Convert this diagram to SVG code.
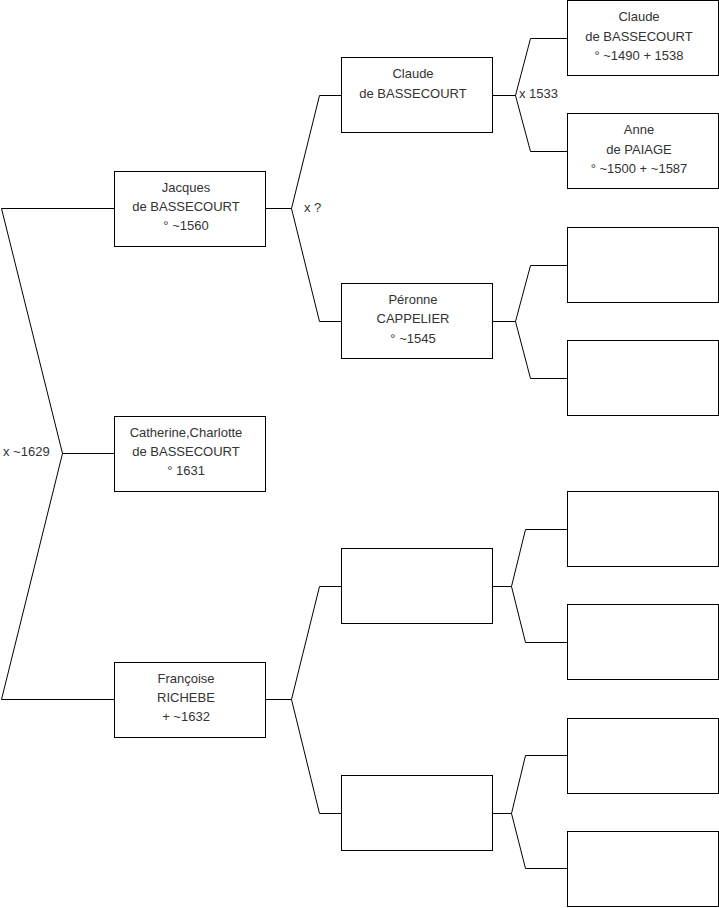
<svg xmlns="http://www.w3.org/2000/svg" width="719" height="908" viewBox="0 0 719 908">
<style>
.box{fill:#fff;stroke:#000;stroke-width:1}
.ln{fill:none;stroke:#000;stroke-width:1}
text{font-family:"Liberation Sans",Arial,sans-serif;font-size:13px;fill:#333}
.c{text-anchor:middle}
</style>
<rect width="719" height="908" fill="#fff"/>
<g id="connectors">
<polyline class="ln" points="114,208.5 1.5,208.5 62.5,453.5 1.5,699.5 114,699.5"/>
<line class="ln" x1="62.5" y1="453.5" x2="114" y2="453.5"/>
<polyline class="ln" points="341,95.5 319.5,95.5 291.5,208.5 319.5,321.5 341,321.5"/>
<line class="ln" x1="265" y1="208.5" x2="291.5" y2="208.5"/>
<polyline class="ln" points="341,586.5 319.5,586.5 291.5,699.5 319.5,813.5 341,813.5"/>
<line class="ln" x1="265" y1="699.5" x2="291.5" y2="699.5"/>
<polyline class="ln" points="567,38.5 530.5,38.5 515.5,95.5 530.5,151.5 567,151.5"/>
<line class="ln" x1="492" y1="95.5" x2="515.5" y2="95.5"/>
<polyline class="ln" points="567,265.5 530.5,265.5 515.5,321.5 530.5,378.5 567,378.5"/>
<line class="ln" x1="492" y1="321.5" x2="515.5" y2="321.5"/>
<polyline class="ln" points="567,529.5 525.5,529.5 511.5,586.5 525.5,642.5 567,642.5"/>
<line class="ln" x1="492" y1="586.5" x2="511.5" y2="586.5"/>
<polyline class="ln" points="567,755.5 525.5,755.5 511.5,813.5 525.5,868.5 567,868.5"/>
<line class="ln" x1="492" y1="813.5" x2="511.5" y2="813.5"/>
<text x="3" y="456">x ~1629</text>
<text x="304" y="212">x ?</text>
<text x="519" y="98">x 1533</text>
</g>
<g id="jacques">
<rect class="box" x="114.5" y="171.5" width="151" height="75"/>
<text class="c" x="186" y="192">Jacques</text>
<text class="c" x="186" y="211">de BASSECOURT</text>
<text class="c" x="186" y="230">° ~1560</text>
</g>
<g id="catherine">
<rect class="box" x="114.5" y="416.5" width="151" height="75"/>
<text class="c" x="186" y="437">Catherine,Charlotte</text>
<text class="c" x="186" y="456">de BASSECOURT</text>
<text class="c" x="186" y="475">° 1631</text>
</g>
<g id="francoise">
<rect class="box" x="114.5" y="662.5" width="151" height="75"/>
<text class="c" x="186" y="683">Françoise</text>
<text class="c" x="186" y="702">RICHEBE</text>
<text class="c" x="186" y="721">+ ~1632</text>
</g>
<g id="claude2">
<rect class="box" x="341.5" y="57.5" width="151" height="75"/>
<text class="c" x="413" y="78">Claude</text>
<text class="c" x="413" y="98">de BASSECOURT</text>
</g>
<g id="peronne">
<rect class="box" x="341.5" y="283.5" width="151" height="75"/>
<text class="c" x="413" y="304">Péronne</text>
<text class="c" x="413" y="323">CAPPELIER</text>
<text class="c" x="413" y="343">° ~1545</text>
</g>
<g id="gen2c">
<rect class="box" x="341.5" y="548.5" width="151" height="75"/>
</g>
<g id="gen2d">
<rect class="box" x="341.5" y="775.5" width="151" height="75"/>
</g>
<g id="claude3">
<rect class="box" x="567.5" y="0.5" width="151" height="75"/>
<text class="c" x="639" y="21">Claude</text>
<text class="c" x="639" y="41">de BASSECOURT</text>
<text class="c" x="639" y="60">° ~1490 + 1538</text>
</g>
<g id="anne">
<rect class="box" x="567.5" y="113.5" width="151" height="75"/>
<text class="c" x="639" y="134">Anne</text>
<text class="c" x="639" y="154">de PAIAGE</text>
<text class="c" x="639" y="173">° ~1500 + ~1587</text>
</g>
<g id="g3c"><rect class="box" x="567.5" y="227.5" width="151" height="75"/></g>
<g id="g3d"><rect class="box" x="567.5" y="340.5" width="151" height="75"/></g>
<g id="g3e"><rect class="box" x="567.5" y="491.5" width="151" height="75"/></g>
<g id="g3f"><rect class="box" x="567.5" y="604.5" width="151" height="75"/></g>
<g id="g3g"><rect class="box" x="567.5" y="718.5" width="151" height="75"/></g>
<g id="g3h"><rect class="box" x="567.5" y="831.5" width="151" height="75"/></g>
</svg>
